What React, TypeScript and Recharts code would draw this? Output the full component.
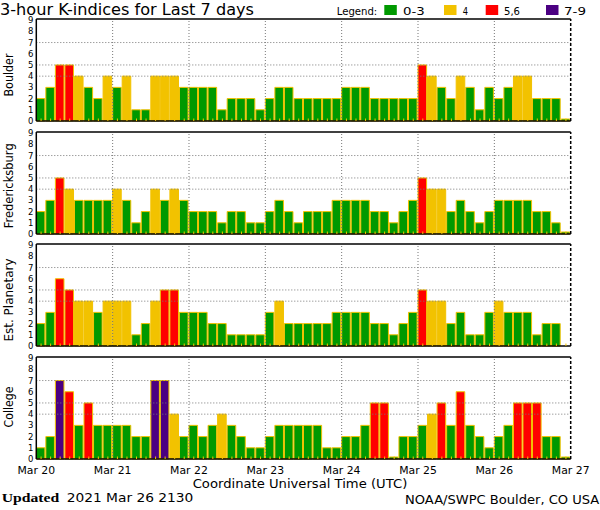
import React from 'react';
import { BarChart, Bar, Cell, XAxis, YAxis, ReferenceLine } from 'recharts';

// 3-hour K values, 8 per day, Mar 20 00 UT .. Mar 26 21 UT
const days = ['Mar 20', 'Mar 21', 'Mar 22', 'Mar 23', 'Mar 24', 'Mar 25', 'Mar 26', 'Mar 27'];
const boulder = [
  2, 3, 5, 5, 4, 3, 2, 4,
  3, 4, 1, 1, 4, 4, 4, 3,
  3, 3, 3, 1, 2, 2, 2, 1,
  2, 3, 3, 2, 2, 2, 2, 2,
  3, 3, 3, 2, 2, 2, 2, 2,
  5, 4, 3, 2, 4, 3, 1, 3,
  2, 3, 4, 4, 2, 2, 2, 0,
];
const fredericksburg = [
  2, 3, 5, 4, 3, 3, 3, 3,
  4, 3, 1, 2, 4, 3, 4, 3,
  2, 2, 2, 1, 2, 2, 1, 1,
  2, 3, 2, 1, 2, 2, 2, 3,
  3, 3, 3, 2, 2, 1, 2, 3,
  5, 4, 4, 2, 3, 2, 1, 2,
  3, 3, 3, 3, 2, 2, 1, 0,
];
const planetary: (number | null)[] = [
  2, 3, 6, 5, 4, 4, 3, 4,
  4, 4, 1, 2, 4, 5, 5, 3,
  3, 3, 2, 2, 1, 1, 1, 1,
  3, 4, 2, 2, 2, 2, 2, 3,
  3, 3, 3, 2, 2, 1, 2, 3,
  5, 4, 4, 2, 3, 1, 1, 3,
  4, 3, 3, 3, 1, 2, 2, null,
];
const college = [
  1, 2, 7, 6, 3, 5, 3, 3,
  3, 3, 2, 2, 7, 7, 4, 2,
  3, 2, 3, 4, 3, 2, 1, 1,
  2, 3, 3, 3, 3, 3, 1, 1,
  2, 2, 3, 5, 5, 0, 2, 2,
  3, 4, 5, 3, 6, 3, 2, 1,
  2, 3, 5, 5, 5, 2, 2, 0,
];
const stations = ['Boulder', 'Fredericksburg', 'Est. Planetary', 'College'];
const stationValues = [boulder, fredericksburg, planetary, college];
const yTicks = [0, 1, 2, 3, 4, 5, 6, 7, 8, 9];
const gridLevels = [4, 5, 7];
const legendLabels = ['0-3', '4', '5,6', '7-9'];

const GREEN = '#009900';
const YELLOW = '#f2c200';
const RED = '#ff0000';
const PURPLE = '#4b0082';
const legendColors = [GREEN, YELLOW, RED, PURPLE];
const kColor = (k: number) => (k >= 7 ? PURPLE : k >= 5 ? RED : k >= 4 ? YELLOW : GREEN);

const PER_DAY = 8;
const SLOTS = (days.length - 1) * PER_DAY;
const Y_MAX = 9.1;
const PLOT_LEFT = 36.3;
const PLOT_RIGHT = 570.7;
const PLOT_H = 102;
const PAD = 4;
const panelTops = [19, 131.5, 244, 356.5];
const labelCenters = [75, 185.8, 300, 407];
const labelLengths = [43, 85, 83, 41];
const FONT = '"DejaVu Sans", sans-serif';

const dayTicks = days.map((_, d) => d * PER_DAY);
const slotTicks = Array.from({ length: SLOTS }, (_, i) => i + 0.5);
const xTicks = [...dayTicks, ...slotTicks].sort((a, b) => a - b);
const barWidth = (PLOT_RIGHT - PLOT_LEFT) / SLOTS;

const renderTick = (props: any, showDates: boolean) => {
  const { x, y, payload } = props;
  const v = payload.value;
  if (v % PER_DAY === 0) {
    if (!showDates) return <g />;
    return (
      <text x={x} y={y + 15} textAnchor="middle" fontSize={10.5} fontFamily={FONT} fill="#000"
        textLength={37.7} lengthAdjust="spacingAndGlyphs">
        {days[v / PER_DAY]}
      </text>
    );
  }
  return <line x1={x} x2={x} y1={y} y2={y - 2.5} stroke={YELLOW} strokeWidth={1} />;
};

const Panel: React.FC<{ values: (number | null)[]; top: number; showDates: boolean }> = ({ values, top, showDates }) => {
  const data = values
    .map((k, i) => ({ x: i + 0.5, k }))
    .filter((d) => d.k !== null);
  const axisH = showDates ? 20 : 2;
  const bottom = showDates ? 22 : PAD;
  return (
    <div style={{ position: 'absolute', left: 0, top: top - PAD }}>
      <BarChart
        width={600}
        height={PAD + PLOT_H + bottom}
        data={data}
        margin={{ top: PAD, right: 600 - PLOT_RIGHT, bottom: bottom - axisH, left: 0 }}
        barCategoryGap={0}
      >
        <YAxis
          width={PLOT_LEFT}
          domain={[0, Y_MAX]}
          ticks={yTicks}
          interval={0}
          tickLine={false}
          tickSize={0}
          tickMargin={3}
          axisLine={{ stroke: '#000', strokeWidth: 1.5 }}
          tick={{ fontSize: 8.5, fill: '#000', fontFamily: FONT }}
        />
        {gridLevels.map((g) => (
          <ReferenceLine key={`h${g}`} y={g} stroke="#777" strokeDasharray="1 2" />
        ))}
        {dayTicks.slice(1, -1).map((d) => (
          <ReferenceLine key={`v${d}`} x={d} stroke="#777" strokeDasharray="1 2" />
        ))}
        <Bar dataKey="k" isAnimationActive={false} stroke={YELLOW} strokeWidth={1} minPointSize={2} barSize={barWidth}>
          {data.map((d, i) => (
            <Cell key={i} fill={kColor(d.k as number)} />
          ))}
        </Bar>
        <ReferenceLine y={Y_MAX} stroke="#000" strokeWidth={1.5} />
        <ReferenceLine x={SLOTS} stroke="#000" strokeWidth={1.5} strokeDasharray="3 2" />
        <XAxis
          dataKey="x"
          type="number"
          domain={[0, SLOTS]}
          ticks={xTicks}
          interval={0}
          height={axisH}
          tickSize={0}
          tickMargin={0}
          tickLine={false}
          axisLine={{ stroke: '#000', strokeWidth: 1.5 }}
          tick={(p: any) => renderTick(p, showDates)}
        />
      </BarChart>
    </div>
  );
};

const legendBoxX = [384.3, 444, 485.7, 546];
const legendTextX = [403, 462.7, 504, 564];
const legendTextLen = [21.7, 5.3, 16, 22];

export default function App() {
  return (
    <div style={{ position: 'absolute', left: 0, top: 0, width: 600, height: 510, background: '#fff', overflow: 'hidden' }}>
      {stationValues.map((vals, i) => (
        <Panel key={stations[i]} values={vals} top={panelTops[i]} showDates={i === stationValues.length - 1} />
      ))}
      <svg width={600} height={510} style={{ position: 'absolute', left: 0, top: 0, pointerEvents: 'none' }}>
        <text x={0} y={14.5} fontSize={15} fontFamily={FONT} textLength={254} lengthAdjust="spacingAndGlyphs">
          3-hour K-indices for Last 7 days
        </text>
        <text x={336.7} y={15} fontSize={11} fontFamily={FONT} textLength={40.6} lengthAdjust="spacingAndGlyphs">
          Legend:
        </text>
        {legendLabels.map((l, i) => (
          <g key={l}>
            <rect x={legendBoxX[i]} y={5} width={12.5} height={10} fill={legendColors[i]} />
            <text x={legendTextX[i]} y={15} fontSize={11} fontFamily={FONT} textLength={legendTextLen[i]} lengthAdjust="spacingAndGlyphs">
              {l}
            </text>
          </g>
        ))}
        {stations.map((s, i) => (
          <text key={s} x={13} y={labelCenters[i]} transform={`rotate(-90 13 ${labelCenters[i]})`} textAnchor="middle"
            fontSize={12} fontFamily={FONT} textLength={labelLengths[i]} lengthAdjust="spacingAndGlyphs">
            {s}
          </text>
        ))}
        <text x={300} y={488} textAnchor="middle" fontSize={12.5} fontFamily={FONT} textLength={214.6} lengthAdjust="spacingAndGlyphs">
          Coordinate Universal Time (UTC)
        </text>
        <text x={1.7} y={502} fontSize={13} fontWeight="bold" fontFamily='"Liberation Serif", serif' textLength={57.6} lengthAdjust="spacingAndGlyphs">
          Updated
        </text>
        <text x={66.7} y={502} fontSize={12} fontFamily={FONT} textLength={126.7} lengthAdjust="spacingAndGlyphs">
          2021 Mar 26 2130
        </text>
        <text x={599.3} y={504} textAnchor="end" fontSize={12} fontFamily={FONT} textLength={194.3} lengthAdjust="spacingAndGlyphs">
          NOAA/SWPC Boulder, CO USA
        </text>
      </svg>
    </div>
  );
}
